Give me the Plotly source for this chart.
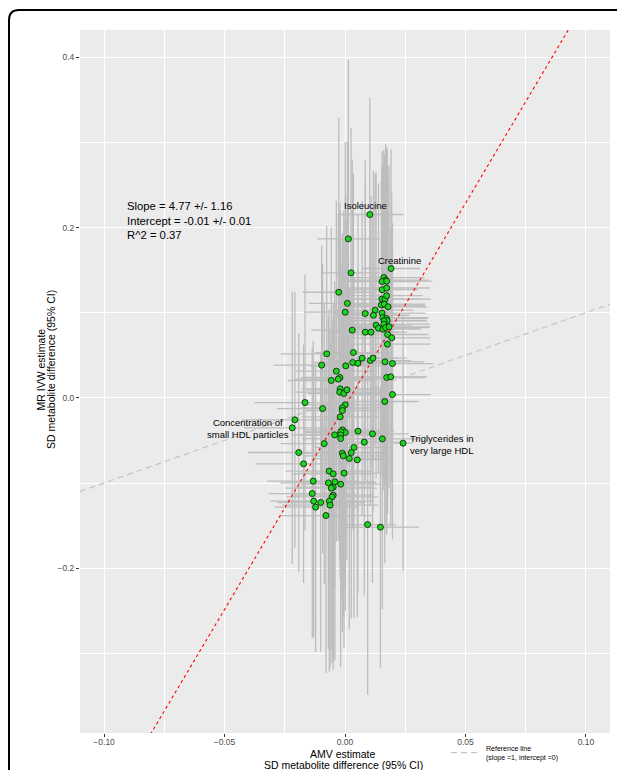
import plotly.graph_objects as go

# ---------------- data ----------------
amv = [
    0.0103, 0.0014, 0.0025, 0.0191, 0.0161, 0.0169, 0.0154, 0.0173, 0.0154, 0.0173,
    -0.0026, 0.0153, 0.0166, 0.0173, 0.0151, 0.0163, 0.0179, 0.0010, 0.0001, 0.0084,
    0.0125, 0.0118, 0.0154, 0.0157, 0.0172, 0.0175, 0.0162, 0.0129, 0.0139, 0.0161,
    0.0158, 0.0169, 0.0183, 0.0030, 0.0084, 0.0108, 0.0177, 0.0194, 0.0176, -0.0076,
    0.0035, 0.0071, 0.0032, 0.0054, 0.0105, 0.0116, -0.0097, 0.0003, 0.0166, 0.0197,
    -0.0036, -0.0021, -0.0028, 0.0173, 0.0190, -0.0057, -0.0020, -0.0022, -0.0005, 0.0008,
    -0.0166, -0.0093, 0.0001, -0.0011, -0.0011, -0.0020, 0.0165, 0.0197, -0.0208, -0.0219,
    -0.0010, 0.0001, -0.0017, -0.0018, -0.0018, -0.0043, 0.0054, 0.0114, 0.0155, 0.0241,
    -0.0086, 0.0080, -0.0192, 0.0037, 0.0026, -0.0011, -0.0007, 0.0018, 0.0051, -0.0172,
    -0.0066, -0.0049, -0.0004, -0.0132, -0.0069, -0.0042, -0.0049, -0.0057, -0.0018, -0.0136,
    -0.0049, -0.0054, -0.0130, -0.0101, -0.0065, -0.0062, -0.0122, -0.0079, 0.0094, 0.0147,
]
mr = [
    0.2153, 0.1867, 0.1468, 0.1519, 0.1413, 0.1382, 0.1366, 0.1370, 0.1270, 0.1290,
    0.1240, 0.1160, 0.1160, 0.1200, 0.1090, 0.1100, 0.1070, 0.1110, 0.1006, 0.0990,
    0.1030, 0.0970, 0.0995, 0.0943, 0.0931, 0.0908, 0.0904, 0.0854, 0.0818, 0.0865,
    0.0807, 0.0826, 0.0834, 0.0795, 0.0771, 0.0771, 0.0744, 0.0705, 0.0630, 0.0517,
    0.0532, 0.0466, 0.0415, 0.0407, 0.0438, 0.0466, 0.0384, 0.0376, 0.0423, 0.0403,
    0.0314, 0.0239, 0.0220, 0.0239, 0.0247, 0.0204, 0.0106, 0.0067, 0.0051, 0.0094,
    -0.0055, -0.0126, -0.0082, -0.0117, -0.0149, -0.0223, -0.0043, 0.0039, -0.0258, -0.0352,
    -0.0376, -0.0407, -0.0399, -0.0435, -0.0478, -0.0435, -0.0391, -0.0423, -0.0481, -0.0532,
    -0.0537, -0.0520, -0.0642, -0.0583, -0.0642, -0.0650, -0.0681, -0.0713, -0.0728, -0.0775,
    -0.0860, -0.0893, -0.0884, -0.0978, -0.0998, -0.0986, -0.1049, -0.1060, -0.1014, -0.1124,
    -0.1143, -0.1163, -0.1213, -0.1229, -0.1213, -0.1260, -0.1284, -0.1382, -0.1488, -0.1519,
]
amv_ci_half = [
    0.014, 0.013, 0.012, 0.012, 0.017, 0.018, 0.016, 0.019, 0.015, 0.018,
    0.015, 0.016, 0.019, 0.015, 0.018, 0.017, 0.016, 0.016, 0.017, 0.013,
    0.016, 0.015, 0.018, 0.019, 0.017, 0.016, 0.018, 0.015, 0.017, 0.019,
    0.016, 0.018, 0.017, 0.017, 0.014, 0.015, 0.017, 0.016, 0.018, 0.019,
    0.016, 0.015, 0.017, 0.014, 0.017, 0.014, 0.020, 0.015, 0.016, 0.017,
    0.017, 0.016, 0.018, 0.016, 0.015, 0.018, 0.016, 0.018, 0.015, 0.017,
    0.021, 0.019, 0.016, 0.017, 0.015, 0.016, 0.014, 0.016, 0.022, 0.020,
    0.016, 0.017, 0.015, 0.018, 0.016, 0.018, 0.015, 0.015, 0.015, 0.004,
    0.018, 0.015, 0.021, 0.016, 0.015, 0.017, 0.016, 0.015, 0.014, 0.020,
    0.018, 0.017, 0.018, 0.019, 0.020, 0.017, 0.016, 0.019, 0.017, 0.018,
    0.017, 0.019, 0.018, 0.018, 0.018, 0.020, 0.017, 0.019, 0.012, 0.016,
]
mr_ci_half = [
    0.137, 0.210, 0.170, 0.140, 0.150, 0.160, 0.135, 0.155, 0.145, 0.165,
    0.205, 0.150, 0.170, 0.160, 0.145, 0.175, 0.150, 0.190, 0.200, 0.180,
    0.160, 0.170, 0.190, 0.175, 0.185, 0.200, 0.160, 0.180, 0.170, 0.195,
    0.175, 0.185, 0.190, 0.200, 0.175, 0.160, 0.195, 0.170, 0.200, 0.150,
    0.210, 0.185, 0.195, 0.175, 0.170, 0.180, 0.140, 0.200, 0.190, 0.165,
    0.200, 0.205, 0.190, 0.185, 0.175, 0.180, 0.210, 0.195, 0.215, 0.200,
    0.150, 0.170, 0.215, 0.205, 0.195, 0.190, 0.190, 0.170, 0.150, 0.160,
    0.200, 0.210, 0.195, 0.205, 0.185, 0.180, 0.190, 0.175, 0.200, 0.150,
    0.165, 0.180, 0.140, 0.200, 0.195, 0.210, 0.190, 0.200, 0.185, 0.140,
    0.190, 0.200, 0.205, 0.165, 0.195, 0.210, 0.200, 0.190, 0.215, 0.170,
    0.205, 0.195, 0.160, 0.175, 0.200, 0.190, 0.170, 0.185, 0.200, 0.165,
]
n = min(len(amv), len(mr), len(amv_ci_half), len(mr_ci_half))
amv, mr, amv_ci_half, mr_ci_half = amv[:n], mr[:n], amv_ci_half[:n], mr_ci_half[:n]

label_texts = ["Isoleucine", "Creatinine", "Concentration of<br>small HDL particles",
               "Triglycerides in<br>very large HDL"]
fit_slope, fit_slope_se = 4.77, 1.16
fit_intercept, fit_intercept_se = -0.01, 0.01
fit_r2 = 0.37
ref_slope, ref_intercept = 1.0, 0.0

x_ticks = [-0.10, -0.05, 0.00, 0.05, 0.10]
y_ticks = [-0.2, 0.0, 0.2, 0.4]
x_title_lines = ["AMV estimate", "SD metabolite difference (95% CI)"]
y_title_lines = ["MR IVW estimate", "SD metabolite difference (95% CI)"]

# ---------------- figure ----------------
x_range = [-0.110, 0.110]
y_range = [-0.3936, 0.432]
FONT = "Liberation Sans, Arial, Helvetica, sans-serif"

fig = go.Figure()

# reference line (slope 1, intercept 0)
fig.add_trace(go.Scatter(
    x=x_range, y=[ref_slope * v + ref_intercept for v in x_range],
    mode="lines", line=dict(color="#C4C4C4", width=1.2, dash="6px,4px"),
    name="Reference line<br>(slope =1, intercept =0)", showlegend=True, hoverinfo="skip",
))

# error bars
fig.add_trace(go.Scatter(
    x=amv, y=mr, mode="markers", marker=dict(size=1, opacity=0),
    error_x=dict(type="data", array=amv_ci_half, color="#BDBDBD", thickness=1.3, width=0),
    error_y=dict(type="data", array=mr_ci_half, color="#BDBDBD", thickness=1.3, width=0),
    showlegend=False, hoverinfo="skip",
))

# fitted line
fig.add_trace(go.Scatter(
    x=x_range, y=[fit_slope * v + fit_intercept for v in x_range],
    mode="lines", line=dict(color="red", width=1.1, dash="3px,3px"),
    showlegend=False, hoverinfo="skip",
))

# points
fig.add_trace(go.Scatter(
    x=amv, y=mr, mode="markers",
    marker=dict(size=6, color="#1ED41E", line=dict(color="#0A2A0A", width=0.9)),
    showlegend=False,
))

annotations = []
# stats text
annotations.append(dict(
    x=-0.0912, y=0.2085, xref="x", yref="y", xanchor="left", yanchor="middle",
    align="left", showarrow=False,
    text=(f"Slope = {fit_slope:.2f} +/- {fit_slope_se:.2f}<br>"
          f"Intercept = {fit_intercept:.2f} +/- {fit_intercept_se:.2f}<br>"
          f"R^2 = {fit_r2:.2f}"),
    font=dict(family=FONT, size=11.3, color="black"),
))
# point labels
label_pos = [(0.0085, 0.2255), (0.0227, 0.161), (-0.0403, -0.0364), (0.0401, -0.0553)]
for txt, (lx, ly) in zip(label_texts, label_pos):
    annotations.append(dict(
        x=lx, y=ly, xref="x", yref="y", xanchor="center", yanchor="middle",
        align="center", showarrow=False, text=txt,
        font=dict(family=FONT, size=9.5, color="black"),
    ))
# axis titles (one annotation per line for tight ggplot-like line spacing)
# plot area on page: x 80..610 (530 px), y 30..733 (703 px)
for txt, py in zip(x_title_lines, [753.5, 764.5]):
    annotations.append(dict(
        x=(343 - 80) / 530, y=(733 - py) / 703, xref="paper", yref="paper",
        xanchor="center", yanchor="middle", showarrow=False, text=txt,
        font=dict(family=FONT, size=10.5, color="black"),
    ))
for txt, px in zip(y_title_lines, [40.5, 51]):
    annotations.append(dict(
        x=(px - 80) / 530, y=(733 - 370) / 703, xref="paper", yref="paper",
        xanchor="center", yanchor="middle", showarrow=False, text=txt, textangle=-90,
        font=dict(family=FONT, size=10.5, color="black"),
    ))

# rounded frame around the figure (only top-left corner visible)
L, T, R, B = (9 - 80) / 530, (733 - 10) / 703, 1.08, -0.1
rx, ry = 10 / 530, 10 / 703
frame_path = f"M {L},{B} L {L},{T - ry} Q {L},{T} {L + rx},{T} L {R},{T}"

# page body has an 8px margin: size the figure so the plot area lands at page x 80-610, y 30-733
fig.update_layout(
    width=617, height=762, autosize=False,
    margin=dict(l=72, r=15, t=22, b=37, autoexpand=False),
    paper_bgcolor="white", plot_bgcolor="#EBEBEB",
    font=dict(family=FONT, color="black"),
    annotations=annotations,
    shapes=[dict(type="path", path=frame_path, xref="paper", yref="paper",
                 line=dict(color="black", width=2))],
    legend=dict(x=(446 - 80) / 530, y=(733 - 737) / 703, xanchor="left", yanchor="top",
                bgcolor="rgba(0,0,0,0)", font=dict(family=FONT, size=7, color="black"),
                itemwidth=30),
    xaxis=dict(range=x_range, tickvals=x_ticks, tickformat=".2f",
               showgrid=True, gridcolor="white", gridwidth=1.2,
               minor=dict(dtick=0.025, tick0=0, showgrid=True, gridcolor="white", gridwidth=0.6),
               zeroline=False, showline=False, ticks="outside", ticklen=3,
               ticklabelstandoff=-2,
               tickcolor="#333333", tickwidth=1,
               tickfont=dict(family=FONT, size=8.5, color="#4D4D4D")),
    yaxis=dict(range=y_range, tickvals=y_ticks, tickformat=".1f",
               showgrid=True, gridcolor="white", gridwidth=1.2,
               minor=dict(dtick=0.1, tick0=0, showgrid=True, gridcolor="white", gridwidth=0.6),
               zeroline=False, showline=False, ticks="outside", ticklen=3,
               tickcolor="#333333", tickwidth=1,
               tickfont=dict(family=FONT, size=8.5, color="#4D4D4D")),
    hovermode=False,
)

fig.write_html("out.html")
